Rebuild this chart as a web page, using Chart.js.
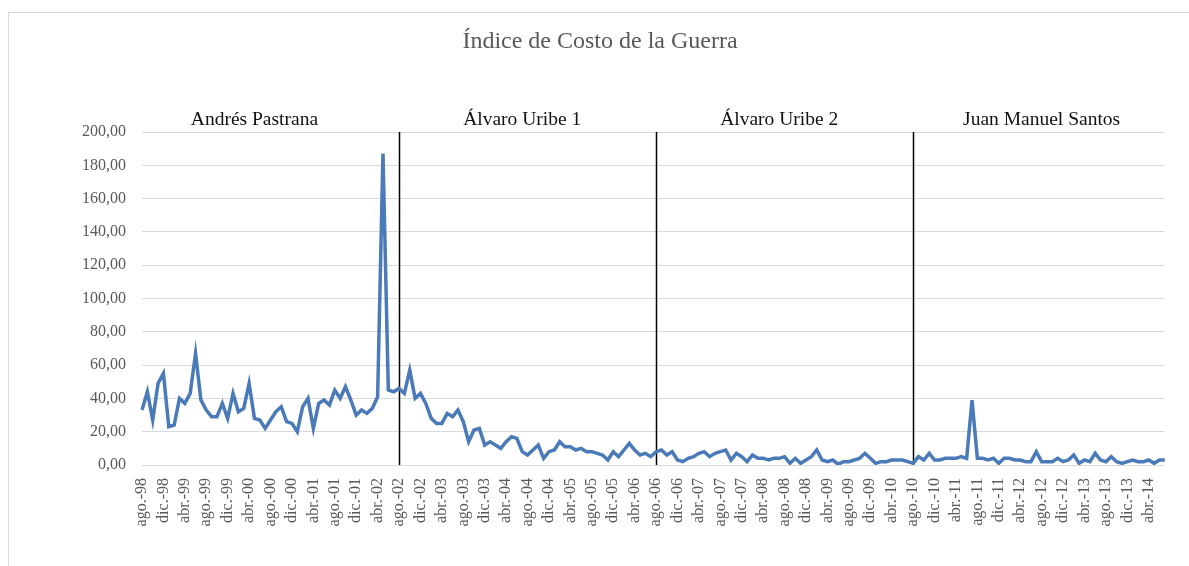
<!DOCTYPE html>
<html>
<head>
<meta charset="utf-8">
<script src="https://cdn.jsdelivr.net/npm/chart.js@4/dist/chart.umd.min.js"></script>
<style>
  html, body { margin: 0; padding: 0; background: #fff; }
  #wrap { position: relative; width: 1189px; height: 566px; }
  #frame {
    position: absolute; left: 8px; top: 12px; right: 0; bottom: 0;
    border-top: 1px solid #d9d9d9; border-left: 1px solid #d9d9d9;
    pointer-events: none;
  }
</style>
</head>
<body>
<div id="wrap">
  <canvas id="warChart" width="1189" height="566"></canvas>
  <div id="frame"></div>
</div>
<script>
/* ===============================
   DATA
================================ */
const TITLE = "Índice de Costo de la Guerra";
const MONTHS = ["ene.", "feb.", "mar.", "abr.", "may.", "jun.", "jul.", "ago.", "sep.", "oct.", "nov.", "dic."];

// monthly series, ago.-98 .. jul.-14
const pastrana = [33, 44, 27, 49, 55, 23, 24, 40, 37, 43, 67, 39, 33, 29, 29, 37, 28, 43, 32, 34, 49, 28, 27, 22,
  27, 32, 35, 26, 25, 20, 35, 40, 22, 37, 39, 36, 45, 40, 47, 39, 30, 33, 31, 34, 41, 187, 45, 44];
const uribe1 = [46, 43, 57, 40, 43, 37, 28, 25, 25, 31, 29, 33, 26, 14, 21, 22, 12, 14, 12, 10, 14, 17, 16, 8,
  6, 9, 12, 4, 8, 9, 14, 11, 11, 9, 10, 8, 8, 7, 6, 3, 8, 5, 9, 13, 9, 6, 7, 5];
const uribe2 = [8, 9, 6, 8, 3, 2, 4, 5, 7, 8, 5, 7, 8, 9, 3, 7, 5, 2, 6, 4, 4, 3, 4, 4,
  5, 1, 4, 1, 3, 5, 9, 3, 2, 3, 0.5, 2, 2, 3, 4, 7, 4, 1, 2, 2, 3, 3, 3, 2];
const santos = [1, 5, 3, 7, 3, 3, 4, 4, 4, 5, 4, 39, 4, 4, 3, 4, 1, 4, 4, 3, 3, 2, 2, 8,
  2, 2, 2, 4, 2, 3, 6, 1, 3, 2, 7, 3, 2, 5, 2, 1, 2, 3, 2, 2, 3, 1, 3, 3];

const values = pastrana.concat(uribe1, uribe2, santos);

// labels "ago.-98" ... starting at aug 1998
const labels = values.map((v, i) => {
  const m = (7 + i) % 12;
  const y = 1998 + Math.floor((7 + i) / 12);
  return MONTHS[m] + "-" + String(y % 100).padStart(2, "0");
});

const periodNames = ["Andrés Pastrana", "Álvaro Uribe 1", "Álvaro Uribe 2", "Juan Manuel Santos"];
const periodLabelAt = ["may.-00", "jul.-04", "jul.-08", "ago.-12"];
const dividers = ["ago.-02", "ago.-06", "ago.-10"];

/* ===============================
   ANNOTATION PLUGIN
================================ */
const SERIF = "'Liberation Serif', 'Times New Roman', serif";

const periodsPlugin = {
  id: "periods",
  beforeDatasetsDraw(chart) {
    const { ctx, scales } = chart;
    ctx.save();
    ctx.strokeStyle = "#000";
    ctx.lineWidth = 1.5;
    dividers.forEach(lbl => {
      const x = Math.round(scales.x.getPixelForValue(labels.indexOf(lbl))) + 0.5;
      ctx.beginPath();
      ctx.moveTo(x, scales.y.getPixelForValue(200));
      ctx.lineTo(x, scales.y.getPixelForValue(0));
      ctx.stroke();
    });
    ctx.restore();
  },
  afterDraw(chart) {
    const { ctx, chartArea, scales } = chart;
    ctx.save();
    ctx.textAlign = "center";
    ctx.textBaseline = "middle";

    ctx.fillStyle = "#595959";
    ctx.font = "24px " + SERIF;
    ctx.fillText(TITLE, 600, 42);

    ctx.fillStyle = "#111";
    ctx.font = "19.5px " + SERIF;
    periodNames.forEach((name, i) => {
      const x = scales.x.getPixelForValue(labels.indexOf(periodLabelAt[i]));
      ctx.fillText(name, x, chartArea.top - 12);
    });
    ctx.restore();
  }
};

/* ===============================
   CHART
================================ */
const tickFont = { family: SERIF, size: 16 };

new Chart(document.getElementById("warChart").getContext("2d"), {
  type: "line",
  data: {
    labels: labels,
    datasets: [
      {
        data: values,
        borderColor: "#4a7ab8",
        borderWidth: 3.5,
        pointRadius: 0,
        tension: 0,
        fill: false
      }
    ]
  },
  options: {
    responsive: false,
    animation: false,
    layout: { padding: { top: 132, right: 24, bottom: 0, left: 0 } },
    plugins: {
      legend: { display: false },
      tooltip: { enabled: false },
      title: { display: false }
    },
    scales: {
      x: {
        offset: false,
        grid: { display: false },
        border: { display: false },
        afterFit(scale) { scale.height = 101; },
        ticks: {
          autoSkip: false,
          maxRotation: 90,
          minRotation: 90,
          padding: 5,
          color: "#595959",
          font: tickFont,
          callback: function (value, index) {
            return index % 4 === 0 ? this.getLabelForValue(value) : "";
          }
        }
      },
      y: {
        min: 0,
        max: 200,
        border: { display: false },
        grid: { color: "#d9d9d9", lineWidth: 1, drawTicks: false },
        afterFit(scale) { scale.width = 142; },
        ticks: {
          stepSize: 20,
          padding: 16,
          color: "#595959",
          font: tickFont,
          callback: v => v.toFixed(2).replace(".", ",")
        }
      }
    }
  },
  plugins: [periodsPlugin]
});
</script>
</body>
</html>
